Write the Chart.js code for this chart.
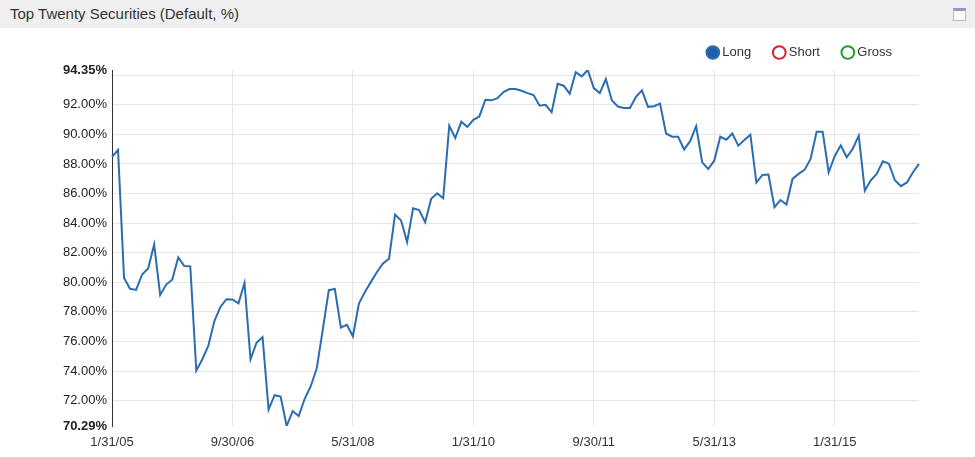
<!DOCTYPE html>
<html>
<head>
<meta charset="utf-8">
<script src="https://cdn.jsdelivr.net/npm/chart.js@4/dist/chart.umd.min.js"></script>
<style>
  html, body { margin: 0; padding: 0; background: #fff; }
  body { width: 975px; height: 457px; position: relative; overflow: hidden; font-family: "Liberation Sans", Arial, sans-serif; }
  #bar { position: absolute; left: 0; top: 0; width: 975px; height: 28px; background: #efefef; z-index: 2; }
  #bar .t { position: absolute; left: 10px; top: 5px; font-size: 15px; color: #333; }
  #bar .ic { position: absolute; left: 953px; top: 8px; width: 11px; height: 9px; background: #fff; border: 1px solid #9fc0e6; border-top: 3px solid #9d93bf; }
  #wrap { position: absolute; left: 0; top: 0; width: 975px; height: 457px; }
</style>
</head>
<body>
<div id="bar"><span class="t">Top Twenty Securities (Default, %)</span><span class="ic"></span></div>
<div id="wrap"><canvas id="c" width="975" height="457"></canvas></div>
<script>
// ---- data ----
const startYear = 2005;
const monthCount = 135;
const categories = [];
for (let i = 0; i < monthCount; i++) {
  const d = new Date(startYear, i + 1, 0);
  categories.push((d.getMonth() + 1) + '/' + d.getDate() + '/' + String(d.getFullYear()).slice(2));
}
const longValues = [
  88.49, 88.94, 80.30, 79.56, 79.49, 80.53, 80.93, 82.55, 79.15, 79.85,
  80.18, 81.69, 81.10, 81.08, 74.03, 74.80, 75.72, 77.38, 78.34, 78.86,
  78.84, 78.58, 79.96, 74.80, 75.92, 76.30, 71.40, 72.37, 72.28, 70.29,
  71.30, 70.96, 72.13, 72.98, 74.19, 76.80, 79.47, 79.56, 76.95, 77.13,
  76.35, 78.57, 79.35, 80.03, 80.70, 81.27, 81.60, 84.58, 84.18, 82.72,
  85.00, 84.89, 84.06, 85.64, 86.02, 85.68, 90.58, 89.75, 90.85, 90.51,
  90.98, 91.21, 92.34, 92.30, 92.45, 92.86, 93.06, 93.06, 92.95, 92.79,
  92.66, 91.94, 92.00, 91.49, 93.42, 93.29, 92.75, 94.20, 93.92, 94.35,
  93.13, 92.79, 93.74, 92.30, 91.88, 91.79, 91.79, 92.53, 92.97, 91.86,
  91.90, 92.08, 90.06, 89.84, 89.84, 88.98, 89.54, 90.55, 88.11, 87.66,
  88.22, 89.84, 89.64, 90.06, 89.24, 89.62, 89.98, 86.74, 87.26, 87.28,
  85.08, 85.56, 85.26, 86.99, 87.33, 87.60, 88.34, 90.18, 90.18, 87.44,
  88.52, 89.26, 88.45, 89.03, 89.91, 86.20, 86.90, 87.35, 88.18, 88.02,
  86.90, 86.50, 86.75, 87.44, 88.00
];
const shortValues = [];
const grossValues = [];
const seriesNames = ['Long', 'Short', 'Gross'];
const xTickLabels = ['1/31/05', '9/30/06', '5/31/08', '1/31/10', '9/30/11', '5/31/13', '1/31/15'];
const yMin = 70.29;
const yMax = 94.35;
const yGridTicks = [72, 74, 76, 78, 80, 82, 84, 86, 88, 90, 92, 94];
const yHiddenLabels = [94];

// ---- chart ----
const FONT = '"Liberation Sans", Arial, sans-serif';
const legendShift = {
  id: 'legendShift',
  beforeDraw(chart) {
    const lg = chart.legend;
    if (!lg) return;
    const w = lg.right - lg.left;
    lg.right = 917;
    lg.left = lg.right - w;
    lg.top = 21;
  }
};

new Chart(document.getElementById('c'), {
  type: 'line',
  data: {
    labels: categories,
    datasets: [
      { label: seriesNames[0], data: longValues, borderColor: '#2c6db0', backgroundColor: '#2160a8', borderWidth: 2, pointRadius: 0, tension: 0, pointStyle: 'circle' },
      { label: seriesNames[1], data: shortValues, borderColor: '#dd1f2b', backgroundColor: '#ffffff', borderWidth: 2, pointRadius: 0, pointStyle: 'circle' },
      { label: seriesNames[2], data: grossValues, borderColor: '#2a9a2a', backgroundColor: '#ffffff', borderWidth: 2, pointRadius: 0, pointStyle: 'circle' }
    ]
  },
  options: {
    responsive: false,
    animation: false,
    layout: { padding: { top: 22, left: 0, right: 56, bottom: 0 } },
    plugins: {
      tooltip: { enabled: false },
      legend: {
        display: true,
        position: 'top',
        align: 'end',
        labels: {
          usePointStyle: true,
          boxWidth: 6,
          boxHeight: 9,
          padding: 25,
          color: '#333',
          font: { family: FONT, size: 13 }
        }
      }
    },
    scales: {
      x: {
        type: 'category',
        offset: false,
        border: { display: false },
        grid: { color: '#e6e6e6', drawTicks: false, lineWidth: 1 },
        ticks: { autoSkip: false, maxRotation: 0, padding: 9, color: '#333', font: { family: FONT, size: 13 } },
        afterBuildTicks(scale) {
          scale.ticks = scale.ticks.filter(t => xTickLabels.includes(categories[t.value]));
        },
        afterFit(scale) { scale.height = 31; }
      },
      y: {
        min: yMin,
        max: yMax,
        border: { display: true, color: '#333', width: 1 },
        grid: {
          drawTicks: false,
          color: ctx => (ctx.tick && (ctx.tick.value === yMin || ctx.tick.value === yMax)) ? 'rgba(0,0,0,0)' : '#e6e6e6'
        },
        ticks: {
          padding: 5,
          color: '#222',
          font: ctx => ({ family: FONT, size: 13, weight: (ctx.tick && (ctx.tick.value === yMin || ctx.tick.value === yMax)) ? 'bold' : 'normal' }),
          callback: v => yHiddenLabels.includes(v) ? '' : Number(v).toFixed(2) + '%'
        },
        afterBuildTicks(scale) {
          scale.ticks = [yMin].concat(yGridTicks, [yMax]).map(v => ({ value: v }));
        },
        afterFit(scale) { scale.width = 112; }
      }
    }
  },
  plugins: [legendShift]
});
</script>
</body>
</html>
